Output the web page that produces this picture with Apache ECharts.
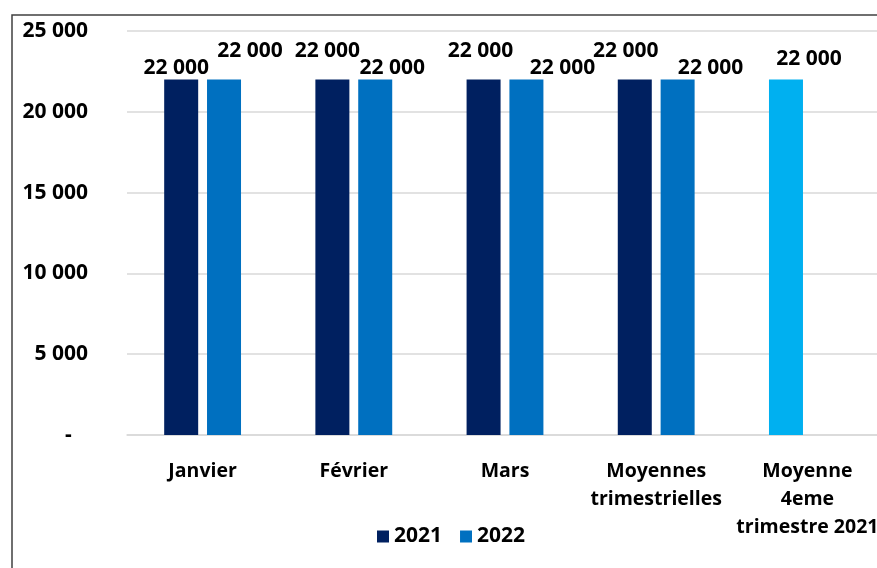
<!DOCTYPE html>
<html>
<head>
<meta charset="utf-8">
<script src="https://cdn.jsdelivr.net/npm/echarts@6/dist/echarts.min.js"></script>
<style>
html, body { margin: 0; padding: 0; background: #fff; }
#chart { width: 877px; height: 568px; }
</style>
</head>
<body>
<div id="chart"></div>
<script>
var categories = ['Janvier', 'Février', 'Mars', 'Moyennes\ntrimestrielles', 'Moyenne\n4eme\ntrimestre 2021'];
var values2021 = [22000, 22000, 22000, 22000, 22000];
var values2022 = [22000, 22000, 22000, 22000, null];
var yTicks = [0, 5000, 10000, 15000, 20000, 25000];

// label nudges (dx, dy) to mimic the hand-placed labels
var shift2021 = [[-5, 0], [-5, -17], [-3, -17], [-9, -17], [23, -9]];
var shift2022 = [[26, -17], [17, 0], [36, 0], [33, 0], [0, 0]];

var FONT = 'Open Sans';

var fmt = function(v){
	if (v === 0) return '-   ';
	return String(v).replace(/\B(?=(\d{3})+(?!\d))/g, ' ');
};

var makeData = function(vals, shifts, colors){
	return vals.map(function(v, i){
		var item = {
			value: v,
			label: { offset: shifts[i] }
		};
		if (colors && colors[i]) item.itemStyle = { color: colors[i] };
		return item;
	});
};

var dom = document.getElementById('chart');
var myChart = echarts.init(dom);
var option = null;

var labelStyle = {
	show: true,
	position: 'top',
	distance: 0,
	color: '#000',
	fontFamily: FONT,
	fontWeight: 'bold',
	fontSize: 21,
	lineHeight: 22,
	formatter: function(p){ return fmt(p.value); }
};

option = {
	animation: false,
	textStyle: { fontFamily: FONT },
	graphic: [{
		type: 'rect',
		shape: { x: 12, y: 15, width: 900, height: 600 },
		style: { fill: 'none', stroke: '#404040', lineWidth: 1.5 },
		silent: true
	}],
	legend: {
		bottom: 16,
		left: 372,
		itemWidth: 12,
		itemHeight: 12,
		itemGap: 18,
		icon: 'rect',
		textStyle: { fontFamily: FONT, fontWeight: 'bold', fontSize: 21, color: '#000' },
		data: ['2021', '2022']
	},
	grid: {
		left: 127,
		top: 31,
		width: 756,
		height: 404,
		containLabel: false,
		outerBoundsMode: 'none'
	},
	xAxis: {
		type: 'category',
		data: categories,
		axisLine: { lineStyle: { color: '#d9d9d9', width: 1.5 } },
		axisTick: { show: false },
		axisLabel: {
			interval: 0,
			margin: 22,
			color: '#000',
			fontFamily: FONT,
			fontWeight: 'bold',
			fontSize: 19.5,
			lineHeight: 28
		}
	},
	yAxis: {
		type: 'value',
		min: 0,
		max: 25000,
		interval: 5000,
		axisLine: { show: false },
		axisTick: { show: false },
		splitLine: { lineStyle: { color: '#d9d9d9', width: 1.5 } },
		axisLabel: {
			margin: 39,
			color: '#000',
			fontFamily: FONT,
			fontWeight: 'bold',
			fontSize: 21,
			formatter: function(v){ return yTicks.indexOf(v) >= 0 ? fmt(v) : ''; }
		}
	},
	series: [
		{
			name: '2021',
			type: 'bar',
			barWidth: 34,
			barGap: '26%',
			color: '#002060',
			label: labelStyle,
			data: makeData(values2021, shift2021, [null, null, null, null, '#00B0F0'])
		},
		{
			name: '2022',
			type: 'bar',
			barWidth: 34,
			barGap: '26%',
			color: '#0070C0',
			label: labelStyle,
			data: makeData(values2022, shift2022)
		}
	]
};

if (option && typeof option === 'object') {
	myChart.setOption(option, true);
}
</script>
</body>
</html>
